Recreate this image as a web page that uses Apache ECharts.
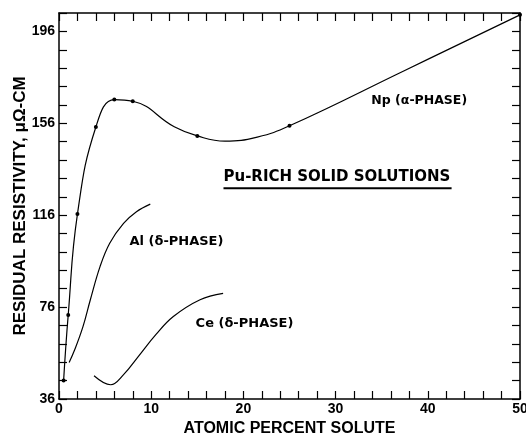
<!DOCTYPE html>
<html>
<head>
<meta charset="utf-8">
<script src="https://cdn.jsdelivr.net/npm/echarts@6/dist/echarts.min.js"></script>
<style>
html,body{margin:0;padding:0;background:#fff;}
#chart{width:526px;height:436px;}
</style>
</head>
<body>
<div id="chart"></div>
<script>
// Data
var npCurve = [[0.5,44],[1,72.6],[2,116.5],[4,154.4],[6,166.3],[8,165.6],[12.5,154.5],[15,150.5],[18,148.2],[21.5,150],[25,154.9],[37.5,179],[50,203.2]];
var npPoints = [[0.5,44],[1,72.6],[2,116.5],[4,154.4],[6,166.3],[8,165.6],[15,150.5],[25,154.9],[50,203.2]];
var alCurve = [[1.1,51.9],[1.7,57.4],[2.6,67.5],[3.4,79.2],[4.45,93.6],[5.5,103.8],[7,112.4],[8.4,117.5],[9.9,120.8]];
var ceCurve = [[3.8,46.1],[5.6,42.2],[7,46.6],[8.7,55],[10.5,64],[12.4,71.9],[15.3,79.2],[17.8,82]];
var annotations = [
  {text:'Np (α-PHASE)', x:39.07, y:165.6, size:12.5},
  {text:'Pu-RICH SOLID SOLUTIONS', x:30.14, y:132.4, size:15},
  {text:'Al (δ-PHASE)', x:12.74, y:104.4, size:13},
  {text:'Ce (δ-PHASE)', x:20.12, y:68.6, size:13}
];
var underline = [[17.84,127.7],[42.58,127.7]];
var xTickStep = 2;
var xLabelStep = 10;
var yTickValues = [36,44,52,60,68,76,84,92,100,108,116,124,132,140,148,156,164,172,180,188,196,204];
var yLabelValues = [36,76,116,156,196];
var xName = 'ATOMIC PERCENT SOLUTE';
var yName = 'RESIDUAL RESISTIVITY, μΩ-CM';

var chart = echarts.init(document.getElementById('chart'), null, {renderer:'canvas'});
var axisLine = {show:true, onZero:false, lineStyle:{color:'#000', width:1.5}};
var tickStyle = {color:'#000', width:1.2};
var labelFont = {color:'#000', fontFamily:'Liberation Sans', fontWeight:'bold', fontSize:14};

function xAxisDef(pos, main){
  return {
    type:'value', position:pos, min:0, max:50, interval:xTickStep,
    name: main ? xName : '', nameLocation:'middle', nameGap:22,
    nameTextStyle:{color:'#000', fontFamily:'Liberation Sans', fontWeight:'bold', fontSize:16},
    axisLine:axisLine,
    axisTick:{show:true, inside:true, length:8, lineStyle:tickStyle},
    axisLabel:Object.assign({show:main, margin:3, showMinLabel:true, showMaxLabel:true,
      formatter:function(v){ return (Math.round(v) % xLabelStep === 0) ? String(Math.round(v)) : ''; }}, labelFont),
    splitLine:{show:false}
  };
}
function yAxisDef(pos, main){
  return {
    type:'value', position:pos, min:36, max:204,
    name: main ? yName : '', nameLocation:'middle', nameGap:30, nameMoveOverlap:false,
    nameTextStyle:{color:'#000', fontFamily:'Liberation Sans', fontWeight:'bold', fontSize:17},
    axisLine:axisLine,
    axisTick:{show:true, inside:true, length:8, lineStyle:tickStyle, customValues:yTickValues},
    axisLabel:Object.assign({show:true, margin:4, customValues:yLabelValues,
      formatter: main ? '{value}' : function(){ return ''; }}, labelFont),
    splitLine:{show:false}
  };
}

var lineStyle = {color:'#000', width:1.2};
var option = {
  backgroundColor:'#fff',
  animation:false,
  grid:{left:59, right:6, top:13, bottom:37, containLabel:false, outerBoundsMode:'none'},
  xAxis:[xAxisDef('bottom', true), xAxisDef('top', false)],
  yAxis:[yAxisDef('left', true), yAxisDef('right', false)],
  series:[
    {type:'line', data:npCurve, smooth:0.45, showSymbol:false, lineStyle:lineStyle, silent:true},
    {type:'scatter', data:npPoints, symbol:'circle', symbolSize:4, itemStyle:{color:'#000', opacity:1}, silent:true},
    {type:'line', data:alCurve, smooth:0.4, showSymbol:false, lineStyle:lineStyle, silent:true},
    {type:'line', data:ceCurve, smooth:0.4, showSymbol:false, lineStyle:lineStyle, silent:true},
    {type:'line', data:underline, showSymbol:false, lineStyle:{color:'#000', width:2}, silent:true},
    {type:'scatter', symbolSize:0, silent:true, itemStyle:{opacity:1},
      data: annotations.map(function(a){
        return {value:[a.x,a.y], label:{show:true, position:'inside', formatter:a.text,
          color:'#000', opacity:1, fontFamily:'DejaVu Sans', fontWeight:'bold', fontSize:a.size}};
      })
    }
  ]
};
chart.setOption(option);
</script>
</body>
</html>
